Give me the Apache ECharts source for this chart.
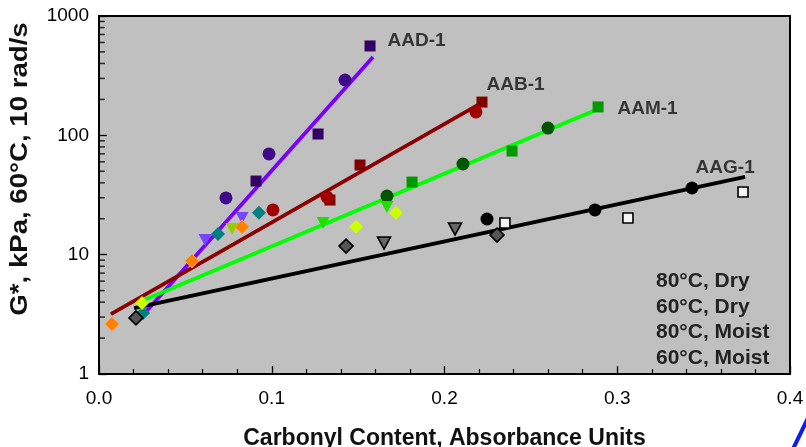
<!DOCTYPE html>
<html><head><meta charset="utf-8">
<script src="https://cdn.jsdelivr.net/npm/echarts@6/dist/echarts.min.js"></script>
<style>html,body{margin:0;padding:0;background:#fff}#c{width:806px;height:447px}</style>
</head><body><div id="c"></div>
<script>
// ---- data (x = carbonyl content, y = G* kPa) ----
const xTicks = [0.0, 0.1, 0.2, 0.3, 0.4];
const yTicks = [1, 10, 100, 1000];
const yMinorTicks = [2,3,4,5,6,7,8,9,20,30,40,50,60,70,80,90,200,300,400,500,600,700,800,900];

const aadLine = [[0.0255, 3.12], [0.1586, 453]];
const aabLine = [[0.0069, 3.18], [0.2194, 180]];
const aamLine = [[0.022, 3.94], [0.290, 169]];
const aagLine = [[0.0203, 3.57], [0.374, 44.8]];

const aadSquares = [[0.1569, 561], [0.1268, 102.6], [0.0909, 41.4]];
const aadCircles = [[0.1424, 291], [0.0984, 69.8], [0.0735, 29.9]];
const aadTriangles = [[0.0614, 13.3], [0.0828, 20.3]];
const aadDiamonds = [[0.0689, 14.9], [0.0926, 22.4], [0.0255, 3.25]];

const aabSquares = [[0.2217, 190], [0.1511, 56.4], [0.1337, 28.7]];
const aabCircles = [[0.2182, 157], [0.1320, 30.4], [0.1007, 23.7]];
const aabDiamonds = [[0.0828, 17.1], [0.0538, 8.85], [0.0075, 2.62]];

const aamSquares = [[0.2889, 173], [0.2391, 73.9], [0.1812, 40.6]];
const aamCircles = [[0.2599, 115], [0.2107, 57.5], [0.1667, 31.0]];
const aamTriangles = [[0.1297, 18.4], [0.1667, 25.1]];
const aamTrianglesYG = [[0.0770, 16.4]];
const aamDiamonds = [[0.1488, 17.1], [0.1719, 22.4], [0.0249, 3.94]];

const aagSquares = [[0.2350, 18.4], [0.3062, 20.3], [0.3728, 33.5]];
const aagCircles = [[0.2246, 19.9], [0.2871, 23.7], [0.3433, 36.2]];
const aagTriangles = [[0.1650, 12.5], [0.2061, 16.4]];
const aagDiamonds = [[0.1430, 11.8], [0.2304, 14.6], [0.0214, 2.95]];

const lineLabels = [
  {name: 'AAD-1', value: aadLine[1], offset: [14, -16]},
  {name: 'AAB-1', value: aabLine[1], offset: [8, -20]},
  {name: 'AAM-1', value: aamLine[1], offset: [17, 1]},
  {name: 'AAG-1', value: aagLine[1], offset: [-50, -9]}
];
const legendLines = ['80°C, Dry', '60°C, Dry', '80°C, Moist', '60°C, Moist'];

const FONT = "'Liberation Sans', Arial, sans-serif";

function lineSeries(data, color) {
  return {type: 'line', data: data, symbol: 'none', lineStyle: {color: color, width: 3.8}, z: 2, silent: true, animation: false};
}
function pts(data, symbol, size, color, border, bw) {
  return {type: 'scatter', data: data, symbol: symbol, symbolSize: size,
    itemStyle: {color: color, borderColor: border || color, borderWidth: bw || 0, opacity: 1},
    z: 3, animation: false};
}
const tri = 'path://M0,0 L10,0 L5,9 Z';

const chart = echarts.init(document.getElementById('c'), null, {renderer: 'canvas'});
chart.setOption({
  backgroundColor: '#fff',
  animation: false,
  title: {
    text: legendLines.join('\n'), left: 656, top: 269, padding: 0,
    textStyle: {fontFamily: FONT, fontSize: 21, fontWeight: 'bold', color: '#222', lineHeight: 25.4}
  },
  grid: {left: 99, right: 16, top: 16, bottom: 73, containLabel: false, outerBoundsMode: 'none',
    show: true, backgroundColor: '#C0C0C0', borderColor: '#000', borderWidth: 2},
  xAxis: {
    type: 'value', min: 0, max: 0.4, interval: 0.1,
    name: 'Carbonyl Content, Absorbance Units', nameLocation: 'middle', nameGap: 53,
    nameTextStyle: {fontFamily: FONT, fontSize: 23, fontWeight: 'bold', color: '#111'},
    axisLine: {show: true, lineStyle: {color: '#000', width: 2}},
    axisTick: {show: true, inside: true, length: 8, lineStyle: {color: '#000', width: 1.3}},
    minorTick: {show: true, splitNumber: 5, length: 5, lineStyle: {color: '#000', width: 1.2}},
    axisLabel: {fontFamily: FONT, fontSize: 19, color: '#000', margin: 15, formatter: v => v.toFixed(1)},
    splitLine: {show: false}
  },
  yAxis: {
    type: 'log', logBase: 10, min: 1, max: 1000,
    axisLine: {show: true, lineStyle: {color: '#000', width: 2}},
    axisTick: {show: true, inside: true, length: 8, lineStyle: {color: '#000', width: 1.3}},
    axisLabel: {fontFamily: FONT, fontSize: 19, color: '#000', margin: 10, formatter: v => String(Math.round(v))},
    splitLine: {show: false}
  },
  graphic: [
    {type: 'text', x: 21, y: 169, rotation: Math.PI / 2, scaleX: 1.2, style: {text: 'G*, kPa, 60°C, 10 rad/s', fontFamily: FONT, fontSize: 23, fontWeight: 'bold', fill: '#111', align: 'center', verticalAlign: 'middle'}},
    {type: 'line', shape: {x1: 808, y1: 418, x2: 793, y2: 449}, style: {stroke: '#0A1EF0', lineWidth: 4}}
  ],
  series: [
    lineSeries(aadLine, '#7700FF'),
    lineSeries(aabLine, '#8B0000'),
    lineSeries(aamLine, '#00FF00'),
    lineSeries(aagLine, '#000000'),
    pts(aadSquares, 'rect', 11, '#330066'),
    pts(aadCircles, 'circle', 13, '#3F0A88'),
    pts(aadTriangles, tri, [13, 12], '#7744FF'),
    pts(aadDiamonds, 'diamond', 14, '#008080'),
    pts(aabSquares, 'rect', 11, '#800000'),
    pts(aabCircles, 'circle', 13, '#A00000'),
    pts(aabDiamonds, 'diamond', 14, '#FF8000', '#FFA040', 1),
    pts(aamSquares, 'rect', 11, '#009900'),
    pts(aamCircles, 'circle', 13, '#005500'),
    pts(aamTriangles, tri, [13, 12], '#22DD00'),
    pts(aamTrianglesYG, tri, [13, 12], '#99CC00'),
    pts(aamDiamonds, 'diamond', 14, '#CCFF00'),
    pts(aagSquares, 'rect', 10, '#F4F4F4', '#000', 1.6),
    pts(aagCircles, 'circle', 13, '#000000'),
    pts(aagTriangles, tri, [13, 12], '#666666', '#000', 1.6),
    pts(aagDiamonds, 'diamond', 14, '#555555', '#000', 1.6),
    {type: 'scatter', data: lineLabels.map(d => ({name: d.name, value: d.value,
        label: {show: true, position: 'right', distance: 0, offset: d.offset, formatter: '{b}',
          fontFamily: FONT, fontSize: 19, fontWeight: 'bold', color: '#111'}})),
      symbolSize: 1, itemStyle: {color: 'rgba(0,0,0,0)'}, silent: true, z: 6, animation: false},
    // minor ticks on the log axis (drawn inside the left edge)
    {type: 'scatter', data: yMinorTicks.map(v => [0, v]), symbol: 'rect', symbolSize: [6, 1.5], symbolOffset: [3, 0],
      itemStyle: {color: '#000'}, silent: true, z: 8, animation: false, clip: false}
  ]
});
</script></body></html>
